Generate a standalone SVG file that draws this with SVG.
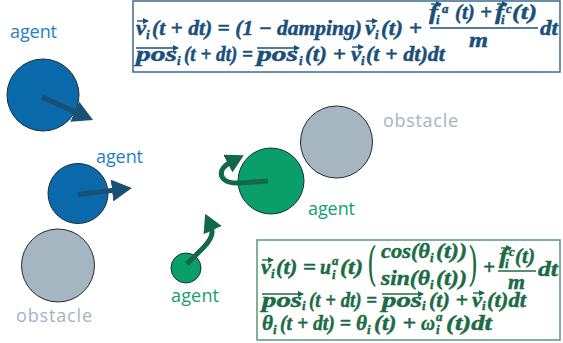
<svg xmlns="http://www.w3.org/2000/svg" width="563" height="343" viewBox="0 0 563 343">
<defs>
<style>
.lbl{font-family:"Open Sans","Liberation Sans",sans-serif;font-size:18px}
.eq{font-family:"Liberation Serif","DejaVu Serif",serif;font-weight:bold;font-style:italic;font-size:21px;stroke-width:0.45;paint-order:stroke}
.bl{fill:#1a4f7a;stroke:#1a4f7a}
.gr{fill:#1b6b45;stroke:#1b6b45}
.s{font-size:13px}
.bp{font-family:"DejaVu Serif",serif;font-weight:normal;font-style:normal;font-size:46px;stroke:none}
.obs{fill:#a5b6c1;stroke:#1f2d38;stroke-width:1}
.ag-b{fill:#0a69aa;stroke:#1f2d38;stroke-width:1}
.ag-g{fill:#0a9e6b;stroke:#1f2d38;stroke-width:1}
.mv-b{fill:none;stroke:#1b4f73;stroke-width:5}
.mv-g{fill:none;stroke:#13684a;stroke-width:5}
.acc-b{fill:none;stroke:#1a4f7a;stroke-width:1.4}
.acc-g{fill:none;stroke:#1b6b45;stroke-width:1.4}
</style>
<marker id="hb" markerUnits="userSpaceOnUse" markerWidth="20" markerHeight="22" viewBox="0 0 20 22" refX="4" refY="11" orient="auto"><path d="M0,0 L20,11 L0,22 z" fill="#1b4f73"/></marker>
<marker id="hg" markerUnits="userSpaceOnUse" markerWidth="18" markerHeight="20" viewBox="0 0 18 20" refX="4" refY="10" orient="auto"><path d="M0,0 L18,10 L0,20 z" fill="#13684a"/></marker>
<marker id="ab" markerUnits="userSpaceOnUse" markerWidth="6" markerHeight="6" viewBox="0 0 6 6" refX="5" refY="3" orient="auto"><path d="M0,0 L6,3 L0,6 z" fill="#1a4f7a"/></marker>
<marker id="ag" markerUnits="userSpaceOnUse" markerWidth="6" markerHeight="6" viewBox="0 0 6 6" refX="5" refY="3" orient="auto"><path d="M0,0 L6,3 L0,6 z" fill="#1b6b45"/></marker>
</defs>

<g id="agent1">
<circle class="ag-b" cx="43" cy="95" r="36"/>
<text class="lbl" x="10" y="38" fill="#1f80c3" textLength="47">agent</text>
</g>
<g id="agent2">
<circle class="ag-b" cx="78" cy="193.5" r="30"/>
<text class="lbl" x="96" y="163" fill="#1f80c3" textLength="47">agent</text>
</g>
<g id="obstacle1">
<circle class="obs" cx="58" cy="265.5" r="36.5"/>
<text class="lbl" x="16" y="322" fill="#a3b4bf" textLength="76">obstacle</text>
</g>
<g id="agent3">
<circle class="ag-g" cx="186" cy="268" r="15"/>
<text class="lbl" x="171" y="302" fill="#14a06e" textLength="48">agent</text>
</g>
<g id="agent4">
<circle class="ag-g" cx="271" cy="181" r="33"/>
<text class="lbl" x="308" y="215" fill="#14a06e" textLength="47">agent</text>
</g>
<g id="obstacle2">
<circle class="obs" cx="336.5" cy="142" r="36"/>
<text class="lbl" x="383" y="127" fill="#a3b4bf" textLength="75">obstacle</text>
</g>

<g id="connectors">
<path class="mv-b" d="M42,97 L78.4,113.4" marker-end="url(#hb)"/>
<path class="mv-b" d="M78,194.5 L116,190" marker-end="url(#hb)"/>
<path class="mv-g" d="M268,181 L240,183 C226,184 219,178 222,170 C224,166 227,164 231.4,161.7" marker-end="url(#hg)"/>
<path class="mv-g" d="M187,264 L203,248 C211,240 214,233 211,226.5" marker-end="url(#hg)"/>
</g>

<g id="eq-top">
<rect x="133" y="1" width="427" height="71" fill="#ffffff" stroke="#3a6b8e" stroke-width="1.5"/>
<text class="eq bl" x="136" y="35" textLength="10" lengthAdjust="spacingAndGlyphs">v</text>
<path class="acc-b" d="M137,21 H148" marker-end="url(#ab)"/>
<text class="eq bl s" x="146" y="39">i</text>
<text class="eq bl" x="152" y="35" textLength="210" lengthAdjust="spacingAndGlyphs">(t + dt) = (1 − damping)</text>
<text class="eq bl" x="365" y="35" textLength="10" lengthAdjust="spacingAndGlyphs">v</text>
<path class="acc-b" d="M366,21 H377" marker-end="url(#ab)"/>
<text class="eq bl s" x="375" y="39">i</text>
<text class="eq bl" x="381" y="35" textLength="41" lengthAdjust="spacingAndGlyphs">(t) +</text>
<text class="eq bl" x="429" y="19" textLength="9" lengthAdjust="spacingAndGlyphs">f</text>
<path class="acc-b" d="M431,4 H441" marker-end="url(#ab)"/>
<text class="eq bl s" x="436" y="24">i</text>
<text class="eq bl s" x="442" y="13">a</text>
<text class="eq bl" x="455" y="19" textLength="37" lengthAdjust="spacingAndGlyphs">(t) +</text>
<text class="eq bl" x="495" y="19" textLength="9" lengthAdjust="spacingAndGlyphs">f</text>
<path class="acc-b" d="M497,4 H507" marker-end="url(#ab)"/>
<text class="eq bl s" x="501" y="24">i</text>
<text class="eq bl s" x="506" y="13">c</text>
<text class="eq bl" x="512" y="19" textLength="25" lengthAdjust="spacingAndGlyphs">(t)</text>
<path d="M430,28 H538" stroke="#1a4f7a" stroke-width="1.5"/>
<text class="eq bl" x="469" y="47" textLength="19" lengthAdjust="spacingAndGlyphs">m</text>
<text class="eq bl" x="540" y="35" textLength="18" lengthAdjust="spacingAndGlyphs">dt</text>

<text class="eq bl" x="136" y="61" textLength="41" lengthAdjust="spacingAndGlyphs">pos</text>
<path class="acc-b" d="M136,48 H178" marker-end="url(#ab)"/>
<text class="eq bl s" x="177" y="65">i</text>
<text class="eq bl" x="184" y="61" textLength="69" lengthAdjust="spacingAndGlyphs">(t + dt) =</text>
<text class="eq bl" x="257" y="61" textLength="41" lengthAdjust="spacingAndGlyphs">pos</text>
<path class="acc-b" d="M257,48 H299" marker-end="url(#ab)"/>
<text class="eq bl s" x="299" y="65">i</text>
<text class="eq bl" x="305" y="61" textLength="41" lengthAdjust="spacingAndGlyphs">(t) +</text>
<text class="eq bl" x="351" y="61" textLength="10" lengthAdjust="spacingAndGlyphs">v</text>
<path class="acc-b" d="M352,47 H363" marker-end="url(#ab)"/>
<text class="eq bl s" x="361" y="65">i</text>
<text class="eq bl" x="366" y="61" textLength="79" lengthAdjust="spacingAndGlyphs">(t + dt)dt</text>
</g>

<g id="eq-bottom">
<rect x="257" y="240" width="303" height="100" fill="#ffffff" stroke="#5a9878" stroke-width="1.5"/>
<text class="eq gr" x="261" y="274" textLength="10" lengthAdjust="spacingAndGlyphs">v</text>
<path class="acc-g" d="M262,260 H273" marker-end="url(#ag)"/>
<text class="eq gr s" x="271" y="278">i</text>
<text class="eq gr" x="276" y="274" textLength="40" lengthAdjust="spacingAndGlyphs">(t) =</text>
<text class="eq gr" x="320" y="274" textLength="11" lengthAdjust="spacingAndGlyphs">u</text>
<text class="eq gr s" x="332" y="265">a</text>
<text class="eq gr s" x="332" y="279">i</text>
<text class="eq gr" x="340" y="274" textLength="23" lengthAdjust="spacingAndGlyphs">(t)</text>
<text class="gr bp" x="367" y="280" textLength="10" lengthAdjust="spacingAndGlyphs">(</text>
<text class="eq gr" x="381" y="258" textLength="49" lengthAdjust="spacingAndGlyphs">cos(θ</text>
<text class="eq gr s" x="430" y="262">i</text>
<text class="eq gr" x="436" y="258" textLength="31" lengthAdjust="spacingAndGlyphs">(t))</text>
<text class="eq gr" x="381" y="285" textLength="49" lengthAdjust="spacingAndGlyphs">sin(θ</text>
<text class="eq gr s" x="430" y="289">i</text>
<text class="eq gr" x="436" y="285" textLength="31" lengthAdjust="spacingAndGlyphs">(t))</text>
<text class="gr bp" x="468" y="280" textLength="10" lengthAdjust="spacingAndGlyphs">)</text>
<text class="eq gr" x="483" y="274" textLength="12" lengthAdjust="spacingAndGlyphs">+</text>
<text class="eq gr" x="499" y="263" textLength="9" lengthAdjust="spacingAndGlyphs">f</text>
<path class="acc-g" d="M501,248 H511" marker-end="url(#ag)"/>
<text class="eq gr s" x="505" y="268">i</text>
<text class="eq gr s" x="509" y="256">c</text>
<text class="eq gr" x="515" y="263" textLength="20" lengthAdjust="spacingAndGlyphs">(t)</text>
<path d="M498,271 H536" stroke="#1b6b45" stroke-width="1.5"/>
<text class="eq gr" x="508" y="289" textLength="17" lengthAdjust="spacingAndGlyphs">m</text>
<text class="eq gr" x="538" y="276" textLength="20" lengthAdjust="spacingAndGlyphs">dt</text>

<text class="eq gr" x="262" y="307" textLength="40" lengthAdjust="spacingAndGlyphs">pos</text>
<path class="acc-g" d="M262,294 H303" marker-end="url(#ag)"/>
<text class="eq gr s" x="302" y="310">i</text>
<text class="eq gr" x="309" y="307" textLength="68" lengthAdjust="spacingAndGlyphs">(t + dt) =</text>
<text class="eq gr" x="382" y="307" textLength="40" lengthAdjust="spacingAndGlyphs">pos</text>
<path class="acc-g" d="M382,294 H423" marker-end="url(#ag)"/>
<text class="eq gr s" x="422" y="310">i</text>
<text class="eq gr" x="429" y="307" textLength="39" lengthAdjust="spacingAndGlyphs">(t) +</text>
<text class="eq gr" x="472" y="307" textLength="10" lengthAdjust="spacingAndGlyphs">v</text>
<path class="acc-g" d="M473,293 H484" marker-end="url(#ag)"/>
<text class="eq gr s" x="482" y="310">i</text>
<text class="eq gr" x="487" y="307" textLength="39" lengthAdjust="spacingAndGlyphs">(t)dt</text>

<text class="eq gr" x="262" y="330" textLength="11" lengthAdjust="spacingAndGlyphs">θ</text>
<text class="eq gr s" x="273" y="334">i</text>
<text class="eq gr" x="280" y="330" textLength="71" lengthAdjust="spacingAndGlyphs">(t + dt) =</text>
<text class="eq gr" x="356" y="330" textLength="11" lengthAdjust="spacingAndGlyphs">θ</text>
<text class="eq gr s" x="367" y="334">i</text>
<text class="eq gr" x="374" y="330" textLength="42" lengthAdjust="spacingAndGlyphs">(t) +</text>
<text class="eq gr" x="421" y="330" textLength="14" lengthAdjust="spacingAndGlyphs">ω</text>
<text class="eq gr s" x="436" y="321">a</text>
<text class="eq gr s" x="436" y="334">i</text>
<text class="eq gr" x="446" y="330" textLength="46" lengthAdjust="spacingAndGlyphs">(t)dt</text>
</g>
</svg>
